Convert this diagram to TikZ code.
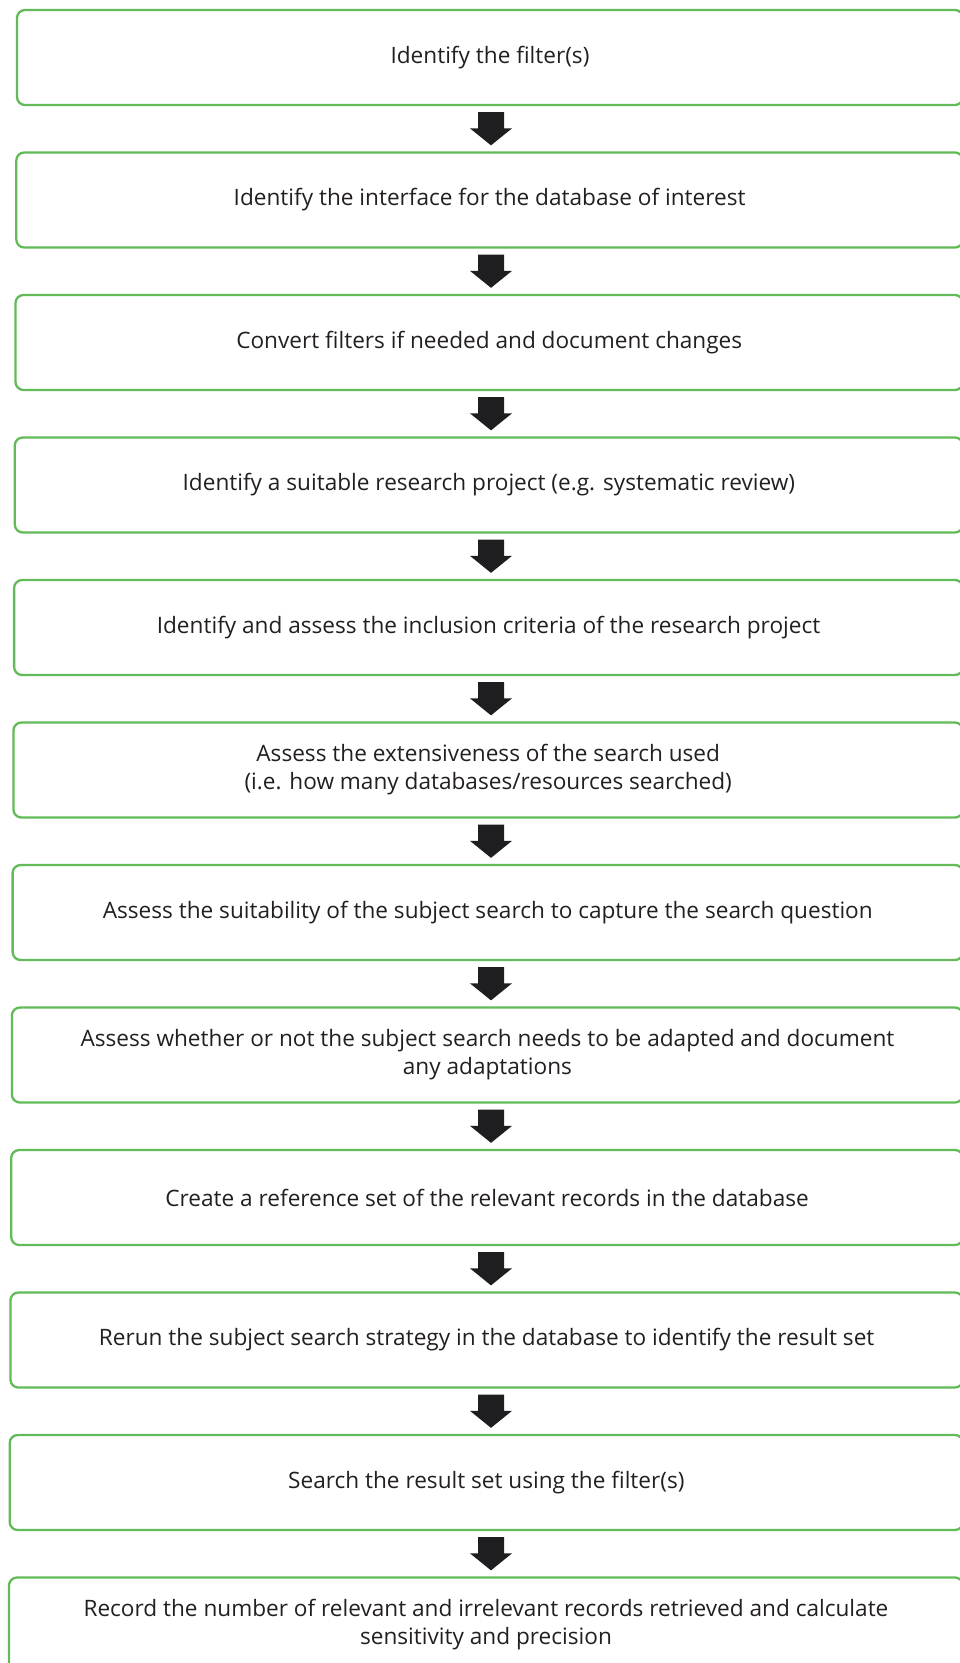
\documentclass[tikz,border=0pt]{standalone}
\usepackage{fontspec}
\setmainfont{Open Sans}
\usetikzlibrary{calc}
\definecolor{boxgreen}{RGB}{98,187,88}
\definecolor{txtgrey}{RGB}{35,31,32}
\definecolor{arrowblack}{RGB}{30,30,32}
\tikzset{
  stepbox/.style={draw=boxgreen, line width=2.3pt, rounded corners=8pt, inner sep=0pt,
    minimum height=95pt, align=center, text=txtgrey,
    font=\fontsize{22.6}{28}\selectfont},
  blockarrow/.style={fill=arrowblack, draw=none}
}
\begin{document}
\begin{tikzpicture}[x=1pt,y=-1pt]
\useasboundingbox (0,0) rectangle (960,1663);
\clip (0,0) rectangle (960,1663);
\coordinate (ax) at (491,0);
\node[stepbox, minimum width=946pt] (b1) at (490,57.5) {Identify the filter(s)};
\node[stepbox, minimum width=946.7pt] (b2) at (489.65,200) {Identify the interface for the database of interest};
\node[stepbox, minimum width=947.5pt] (b3) at (489.25,342.5) {Convert filters if needed and document changes};
\node[stepbox, minimum width=948.2pt] (b4) at (488.9,485) {Identify a suitable research project (e.g. systematic review)};
\node[stepbox, minimum width=948.9pt] (b5) at (488.55,627.5) {Identify and assess the inclusion criteria of the research project};
\node[stepbox, minimum width=949.6pt] (b6) at (488.2,770) {Assess the extensiveness of the search used\\(i.e. how many databases/resources searched)};
\node[stepbox, minimum width=950.4pt] (b7) at (487.8,912.5) {Assess the suitability of the subject search to capture the search question};
\node[stepbox, minimum width=951.1pt] (b8) at (487.45,1055) {Assess whether or not the subject search needs to be adapted and document\\any adaptations};
\node[stepbox, minimum width=951.8pt] (b9) at (487.1,1197.5) {Create a reference set of the relevant records in the database};
\node[stepbox, minimum width=952.6pt] (b10) at (486.7,1340) {Rerun the subject search strategy in the database to identify the result set};
\node[stepbox, minimum width=953.3pt] (b11) at (486.35,1482.5) {Search the result set using the filter(s)};
\node[stepbox, minimum width=954pt] (b12) at (486,1625) {Record the number of relevant and irrelevant records retrieved and calculate\\sensitivity and precision};
\foreach \a/\b in {b1/b2,b2/b3,b3/b4,b4/b5,b5/b6,b6/b7,b7/b8,b8/b9,b9/b10,b10/b11,b11/b12}{
  \fill[blockarrow] ($(\a.south -| ax)+(-13,6)$) -- ++(26,0)
    -- ($(\b.north -| ax)+(13,-23)$) -- ++(8,0)
    -- ($(\b.north -| ax)+(0,-6)$) -- ++(-21,-17) -- ++(8,0) -- cycle;
}
\end{tikzpicture}
\end{document}
